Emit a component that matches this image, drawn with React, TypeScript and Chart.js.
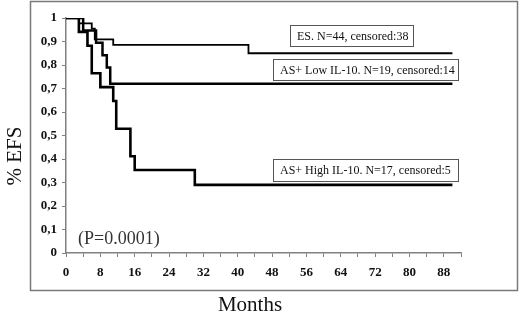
import React, { useEffect, useRef } from "react";
import { Chart, registerables } from "chart.js";

Chart.register(...registerables);

const esMonths = [0, 3, 6, 6.7, 11, 42.5, 90];
const esValues = [1, 0.977, 0.955, 0.909, 0.886, 0.85, 0.85];

const lowMonths = [0, 4, 7, 8.5, 9.5, 10.3, 90];
const lowValues = [1, 0.947, 0.895, 0.842, 0.789, 0.72, 0.72];

const highMonths = [0, 3, 5, 6, 8, 11, 11.7, 15, 16, 30, 90];
const highValues = [1, 0.941, 0.882, 0.765, 0.706, 0.647, 0.529, 0.412, 0.353, 0.29, 0.29];

const xTickStep = 4;
const xLabelStep = 8;
const xMax = 92;

const seriesLabels = [
  "ES. N=44, censored:38",
  "AS+ Low IL-10. N=19, censored:14",
  "AS+ High IL-10. N=17, censored:5",
];
const yTitle = "% EFS";
const xTitle = "Months";
const pText = "(P=0.0001)";

const SERIF = '"Liberation Serif", "DejaVu Serif", serif';

function toPoints(xs: number[], ys: number[]) {
  return xs.map((x, i) => ({ x, y: ys[i] }));
}

const decorPlugin = {
  id: "decor",
  afterDraw(chart: any) {
    const ctx = chart.ctx as CanvasRenderingContext2D;
    ctx.save();
    ctx.strokeStyle = "#7a7a7a";
    ctx.lineWidth = 1.5;
    ctx.strokeRect(30.5, 1.5, 487, 289);

    ctx.fillStyle = "#111";
    ctx.font = `21px ${SERIF}`;
    ctx.textAlign = "center";
    ctx.textBaseline = "middle";
    ctx.save();
    ctx.translate(15, 156);
    ctx.rotate(-Math.PI / 2);
    ctx.fillText(yTitle, 0, 0);
    ctx.restore();

    ctx.fillText(xTitle, 250, 305);

    ctx.fillStyle = "#333";
    ctx.font = `18px ${SERIF}`;
    ctx.textAlign = "left";
    ctx.fillText(pText, 78, 239);

    const boxes = [
      { x: 290, y: 25, w: 123, h: 21 },
      { x: 273, y: 59, w: 185, h: 21 },
      { x: 273, y: 159, w: 185, h: 22 },
    ];
    ctx.font = `12px ${SERIF}`;
    boxes.forEach((b, i) => {
      ctx.fillStyle = "#fff";
      ctx.fillRect(b.x, b.y, b.w, b.h);
      ctx.strokeStyle = "#555";
      ctx.lineWidth = 1;
      ctx.strokeRect(b.x + 0.5, b.y + 0.5, b.w, b.h);
      ctx.fillStyle = "#111";
      ctx.textAlign = "left";
      ctx.textBaseline = "middle";
      ctx.fillText(seriesLabels[i], b.x + 7, b.y + b.h / 2 + 1);
    });
    ctx.restore();
  },
};

export default function App() {
  const ref = useRef<HTMLCanvasElement | null>(null);

  useEffect(() => {
    document.body.style.margin = "0";
    if (!ref.current) return;
    const common = {
      stepped: "before" as const,
      borderColor: "#000",
      pointRadius: 0,
      fill: false,
    };
    const chart = new Chart(ref.current, {
      type: "line",
      data: {
        datasets: [
          { ...common, label: seriesLabels[0], data: toPoints(esMonths, esValues), borderWidth: 1.8 },
          { ...common, label: seriesLabels[1], data: toPoints(lowMonths, lowValues), borderWidth: 2.5 },
          { ...common, label: seriesLabels[2], data: toPoints(highMonths, highValues), borderWidth: 2.6 },
        ],
      },
      options: {
        animation: false,
        responsive: false,
        devicePixelRatio: 1,
        layout: { padding: { top: 18, right: 59, left: 0, bottom: 0 } },
        plugins: { legend: { display: false }, tooltip: { enabled: false } },
        scales: {
          x: {
            type: "linear",
            min: 0,
            max: xMax,
            afterFit: (s: any) => {
              s.height = 63;
            },
            grid: { drawOnChartArea: false, drawTicks: true, tickLength: 4, color: "#808080", lineWidth: 1 },
            border: { display: true, color: "#808080", width: 1.5 },
            ticks: {
              stepSize: xTickStep,
              autoSkip: false,
              maxRotation: 0,
              padding: 8,
              color: "#111",
              font: { family: SERIF, size: 13, weight: "bold" },
              callback: (v: any) => (Number(v) % xLabelStep === 0 ? String(v) : ""),
            },
          },
          y: {
            min: 0,
            max: 1,
            afterFit: (s: any) => {
              s.width = 66;
            },
            grid: { drawOnChartArea: false, drawTicks: true, tickLength: 4, color: "#808080", lineWidth: 1 },
            border: { display: true, color: "#808080", width: 1.5 },
            ticks: {
              stepSize: 0.1,
              padding: 5,
              color: "#111",
              font: { family: SERIF, size: 13, weight: "bold" },
              callback: (v: any) => {
                const n = Math.round(Number(v) * 10) / 10;
                if (n === 0) return "0";
                if (n === 1) return "1";
                return n.toFixed(1).replace(".", ",");
              },
            },
          },
        },
      },
      plugins: [decorPlugin],
    });
    return () => chart.destroy();
  }, []);

  return (
    <div style={{ width: 520, height: 316, background: "#fff" }}>
      <canvas ref={ref} width={520} height={316} />
    </div>
  );
}
